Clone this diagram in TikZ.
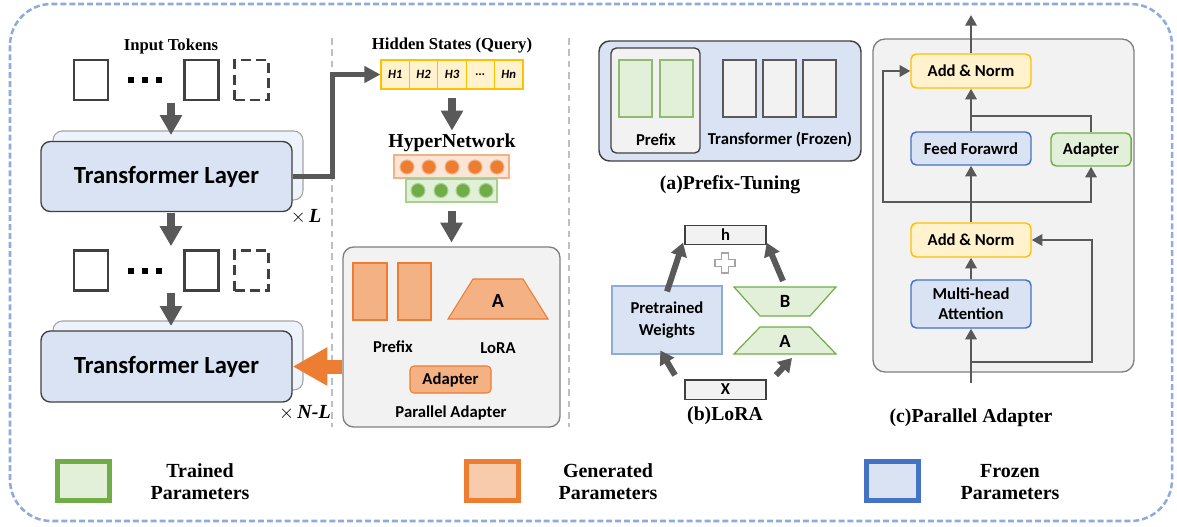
\documentclass[tikz,border=0pt]{standalone}
\usepackage{amsmath}
\usepackage{amssymb}
\usepackage{fontspec}
\setmainfont{Liberation Serif}
\newfontfamily\calfont{Carlito}
\usepackage{tikz}
\usetikzlibrary{arrows.meta}

\definecolor{frozenfill}{RGB}{218,227,243}
\definecolor{frozenline}{RGB}{68,114,196}
\definecolor{trainfill}{RGB}{226,240,217}
\definecolor{trainline}{RGB}{112,173,71}
\definecolor{trainsoft}{RGB}{169,209,142}
\definecolor{genfill}{RGB}{244,177,131}
\definecolor{genline}{RGB}{237,125,49}
\definecolor{genlight}{RGB}{248,203,173}
\definecolor{normfill}{RGB}{255,242,204}
\definecolor{normline}{RGB}{255,192,0}
\definecolor{boxfill}{RGB}{242,242,242}
\definecolor{boxline}{RGB}{127,127,127}
\definecolor{darkline}{RGB}{64,64,64}
\definecolor{arrowgray}{RGB}{89,89,89}
\definecolor{borderblue}{RGB}{143,170,220}
\definecolor{sepgray}{RGB}{191,191,191}

\tikzset{
  lbl/.style={font=\calfont\bfseries\fontsize{12.5}{14}\selectfont, inner sep=0.75pt, align=center},
  captext/.style={font=\bfseries\fontsize{14.8}{17}\selectfont, inner sep=0.75pt},
  titletext/.style={font=\bfseries\fontsize{12.5}{14}\selectfont, inner sep=0.75pt},
  legtext/.style={font=\bfseries\fontsize{15}{16.5}\selectfont, inner sep=0.75pt, align=center},
}

\begin{document}
\begin{tikzpicture}[x=0.75pt,y=0.75pt,yscale=-1,xscale=1,
  token/.style={draw=darkline, line width=1.8pt, minimum width=25.5pt, minimum height=30pt, inner sep=0pt},
  ghost/.style={token, dash pattern=on 7.5pt off 4pt},
  dotsq/.style={fill=black, minimum size=4.5pt, inner sep=0pt},
  layerback/.style={draw=boxline!70, fill=frozenfill!45, rounded corners=7pt, line width=0.8pt, minimum width=187.5pt, minimum height=51.75pt},
  layer/.style={draw=darkline, fill=frozenfill, rounded corners=7pt, line width=1pt, minimum width=188.25pt, minimum height=52.5pt, inner sep=0pt, font=\calfont\bfseries\fontsize{18.5}{20}\selectfont},
  bigarrow/.style={draw=arrowgray, line width=6pt, -{Triangle[length=15pt,width=16pt]}},
  linkarrow/.style={draw=arrowgray, line width=3.75pt, -{Triangle[length=12pt,width=12pt]}},
  genarrow/.style={draw=genline, line width=10.5pt, -{Triangle[length=26pt,width=27pt]}},
  loraarrow/.style={draw=arrowgray, line width=4.5pt, -{Triangle[length=10pt,width=12pt]}},
  flowarrow/.style={draw=arrowgray, line width=1.8pt, -{Triangle[length=8pt,width=8.5pt]}},
  flowline/.style={draw=arrowgray, line width=1.8pt},
  hcell/.style={draw=normline, fill=normfill, line width=0.8pt, minimum width=21.3pt, minimum height=21.75pt, inner sep=0pt, font=\calfont\bfseries\itshape\fontsize{9.5}{10}\selectfont},
  neuronO/.style={circle, fill=genline, draw=genfill, line width=0.8pt, minimum size=10.5pt, inner sep=0pt},
  neuronG/.style={circle, fill=trainline, draw=trainsoft, line width=0.8pt, minimum size=10.5pt, inner sep=0pt},
  genrect/.style={draw=genline, fill=genfill, line width=0.8pt, inner sep=0pt},
  grayrect/.style={draw=arrowgray, fill=boxfill, line width=0.8pt, minimum width=24.75pt, minimum height=42.75pt, inner sep=0pt},
  greenrect/.style={draw=trainline!80, fill=trainfill, line width=0.8pt, minimum width=24.75pt, minimum height=42.75pt, inner sep=0pt},
  vecbox/.style={lbl, draw=darkline, fill=boxfill, line width=1pt, minimum width=60.75pt, minimum height=14.5pt, inner sep=0pt},
  normbox/.style={lbl, draw=normline, fill=normfill, line width=1.1pt, rounded corners=4pt, minimum width=90pt, minimum height=25.5pt, inner sep=0pt},
  frozenbox/.style={lbl, draw=frozenline, fill=frozenfill, line width=1.1pt, rounded corners=4pt, minimum width=90pt, minimum height=24.75pt, inner sep=0pt},
  trainbox/.style={lbl, draw=trainline, fill=trainfill, line width=1.1pt, rounded corners=4pt, minimum width=60pt, minimum height=24.75pt, inner sep=0pt},
  legsq/.style={line width=3.75pt, minimum width=39pt, minimum height=29.25pt, inner sep=0pt},
]
\useasboundingbox (0,0) rectangle (1177,526);

%Shape: Rounded Rect [outer frame]
\draw [borderblue, line width=1.9pt, dash pattern=on 4.5pt off 2.2pt, rounded corners=31pt] (10,4) rectangle (1172,521);
%Straight Lines [separators]
\draw [sepgray, line width=1.5pt, dash pattern=on 5pt off 3.5pt] (332,38) -- (332,427);
\draw [sepgray, line width=1.5pt, dash pattern=on 5pt off 3.5pt] (569,38) -- (569,427);

% Text Node
\node [titletext] (intok) at (171,46) {Input Tokens};

%Shape: Rectangle [token rows]
\foreach \r/\ty in {A/80,B/270.5}{
  \node [token] (tok\r1) at (91,\ty) {};
  \node [token] (tok\r2) at (201.5,\ty) {};
  \node [ghost] (tok\r3) at (251.5,\ty) {};
  \foreach \dx in {131,145,159}
    \node [dotsq] at (\dx,\ty) {};
}
\coordinate (rowA) at (171,100);
\coordinate (rowB) at (171,291);

%Shape: Rounded Rect [layers]
\node [layerback] (tl1b) at (178,165.5) {};
\node [layer] (tl1) at (166.5,176.5) {Transformer Layer};
\node [layerback] (tl2b) at (178,355.5) {};
\node [layer, minimum height=53.25pt] (tl2) at (166.5,366.5) {Transformer Layer};
% Text Node
\node [inner sep=0.75pt, font=\fontsize{15}{16}\selectfont] (rep1) at (306,217) {$\times$\,\textbf{\textit{L}}};
\node [inner sep=0.75pt, font=\fontsize{15}{16}\selectfont] (rep2) at (305,413) {$\times$\,\textbf{\textit{N-L}}};

%Straight Lines [down arrows]
\draw [bigarrow] (rowA) ++(0,3) -- ++(0,32);
\draw [bigarrow] (rowA |- tl1.south) ++(0,1) -- ++(0,33);
\draw [bigarrow] (rowB) ++(0,2) -- ++(0,33);

% Text Node
\node [titletext] (hidtitle) at (452,46) {Hidden States (Query)};
%Shape: Rectangle [hidden states]
\foreach \lab [count=\i] in {H1,H2,H3,{\ldots},Hn}
  \node [hcell] (hs\i) at ({366.8+28.4*\i},74.5) {\lab};

%Straight Lines [layer to hidden states]
\draw [linkarrow] (tl1.east) -- ++(40,0) |- (hs1.west);

%Straight Lines
\draw [bigarrow] (hs3.south) ++(0,8) -- ++(0,33);
% Text Node
\node [font=\bfseries\fontsize{14.8}{17}\selectfont, inner sep=0.75pt] (hyper) at (452,143) {HyperNetwork};
%Shape: Rectangle [hypernetwork layers]
\node [draw=genfill, fill=genline!20, line width=0.8pt, minimum width=86.25pt, minimum height=17.25pt, inner sep=0pt] (hidlayer) at (451.5,166.5) {};
\foreach \nx in {407,429,452,475,497}
  \node [neuronO] at (\nx,167) {};
\node [draw=trainsoft, fill=trainfill, line width=0.8pt, minimum width=68.25pt, minimum height=17.25pt, inner sep=0pt] (outlayer) at (451.5,190.5) {};
\foreach \nx in {418,441,463,486}
  \node [neuronG] at (\nx,190.5) {};

%Shape: Rounded Rect [generated modules]
\node [draw=boxline, fill=boxfill, line width=1pt, rounded corners=8pt, minimum width=162.75pt, minimum height=135pt, inner sep=0pt] (pabox) at (451.5,337) {};
\draw [bigarrow] (outlayer.south) ++(0,8) -- ++(0,32);
\node [genrect, minimum width=25.5pt, minimum height=42.75pt] (pre1) at (370,291.5) {};
\node [genrect, minimum width=24.75pt, minimum height=42.75pt] (pre2) at (414.5,291.5) {};
\draw [genline, fill=genfill, line width=0.8pt] (448,319) -- (473,279) -- (523,279) -- (548,319) -- cycle;
\node [lbl, font=\calfont\bfseries\fontsize{15}{16}\selectfont] (genA) at (498,301) {A};
\node [lbl] (prelbl) at (393,347) {Prefix};
\node [lbl] (loralbl) at (498,348) {LoRA};
\node [lbl, genrect, rounded corners=3pt, minimum width=60.75pt, minimum height=20.25pt] (padapt) at (450.5,379.5) {Adapter};
\node [lbl] (palbl) at (451,413) {Parallel Adapter};

%Straight Lines [generated parameters to layer]
\draw [genarrow] (pabox.west |- tl2.east) -- (tl2.east);

%Shape: Rounded Rect [(a) prefix-tuning]
\node [draw=darkline, fill=frozenfill, line width=1.1pt, rounded corners=8pt, minimum width=196.5pt, minimum height=90pt, inner sep=0pt] (ptbox) at (730,101) {};
\node [draw=darkline, fill=boxfill, line width=1pt, rounded corners=4pt, minimum width=66.75pt, minimum height=78.75pt, inner sep=0pt] (ptprefix) at (655.5,100.5) {};
\node [greenrect] (pg1) at (635.5,88.5) {};
\node [greenrect] (pg2) at (676.5,88.5) {};
\foreach \gx [count=\i] in {739.5,779.5,819.5}
  \node [grayrect] (pt\i) at (\gx,88.5) {};
\node [lbl] (ptlbl1) at (656,140) {Prefix};
\node [lbl] (ptlbl2) at (780,140) {Transformer (Frozen)};
\node [captext] (capa) at (730,185) {(a)Prefix-Tuning};

%Shape: Rectangle [(b) LoRA]
\node [vecbox] (hout) at (725.5,235) {h};
\node [vecbox] (xin) at (725.5,389.5) {X};
\draw [fill=white, draw=boxline!70, line width=1pt] (721.5,253) -- (728.5,253) -- (728.5,259.5) -- (735,259.5) -- (735,266.5) -- (728.5,266.5) -- (728.5,273) -- (721.5,273) -- (721.5,266.5) -- (715,266.5) -- (715,259.5) -- (721.5,259.5) -- cycle;
\node [lbl, draw=borderblue, fill=frozenfill, line width=0.8pt, minimum width=82.5pt, minimum height=51pt] (pw) at (667,320) {Pretrained\\[2pt]Weights};
\draw [trainline, fill=trainfill, line width=0.9pt] (734,287) -- (836,287) -- (810,316) -- (760,316) -- cycle;
\node [lbl, font=\calfont\bfseries\fontsize{14}{15}\selectfont] (loraB) at (785,301) {B};
\draw [trainline, fill=trainfill, line width=0.9pt] (760,327) -- (810,327) -- (836,354) -- (734,354) -- cycle;
\node [lbl, font=\calfont\bfseries\fontsize{14}{15}\selectfont] (loraA) at (785,341) {A};
\coordinate (btop) at (783,281);
\coordinate (abot) at (792,358);
%Straight Lines
\draw [loraarrow] ([yshift=4.5pt]pw.north) -- ([xshift=-1pt,yshift=-2pt]hout.south west);
\draw [loraarrow] (btop) -- ([yshift=-2pt]hout.south east);
\draw [loraarrow] ([xshift=-7pt,yshift=-3pt]xin.north west) -- ([xshift=-5pt,yshift=-3pt]pw.south);
\draw [loraarrow] ([xshift=7pt,yshift=-3pt]xin.north east) -- (abot);
\node [captext] (capb) at (725,416) {(b)LoRA};

%Shape: Rounded Rect [(c) parallel adapter]
\node [draw=boxline, fill=boxfill, line width=1pt, rounded corners=9pt, minimum width=195.75pt, minimum height=249.75pt, inner sep=0pt] (pagray) at (1003.5,205.5) {};
\node [normbox] (an2) at (971,71) {Add \& Norm};
\node [frozenbox] (ff) at (971,148.5) {Feed Forawrd};
\node [trainbox] (ada) at (1091,149.5) {Adapter};
\node [normbox] (an1) at (971,240) {Add \& Norm};
\node [frozenbox, minimum height=36pt] (mha) at (971,304) {Multi-head\\[1pt]Attention};
\coordinate (cin) at (971,383);
\coordinate (split1) at (971,362);
\coordinate (split2) at (971,202);
\coordinate (merge) at (971,116);
\coordinate (cout) at (971,15);
%Straight Lines
\draw [flowarrow] (cin) -- (mha);
\draw [flowarrow] (split1) -- (1092,362) |- (an1.east);
\draw [flowarrow] (mha) -- (an1);
\draw [flowarrow] (an1) -- (ff);
\draw [flowarrow] (split2) -- (883,202) |- (an2.west);
\draw [flowarrow] (split2) -| (ada.south);
\draw [flowarrow] (ff) -- (an2);
\draw [flowline] (ada.north) |- (merge);
\draw [flowarrow] (an2) -- (cout);
\node [captext] (capc) at (971,418) {(c)Parallel Adapter};

%Shape: Rectangle [legend]
\node [legsq, draw=trainline, fill=trainfill] (legT) at (83.5,481) {};
\node [legtext] (legTl) at (200,482) {Trained\\Parameters};
\node [legsq, draw=genline, fill=genlight] (legG) at (492,481) {};
\node [legtext] (legGl) at (608,482) {Generated\\Parameters};
\node [legsq, draw=frozenline, fill=frozenfill] (legF) at (892.5,481) {};
\node [legtext] (legFl) at (1010,482) {Frozen\\Parameters};

\end{tikzpicture}
\end{document}
